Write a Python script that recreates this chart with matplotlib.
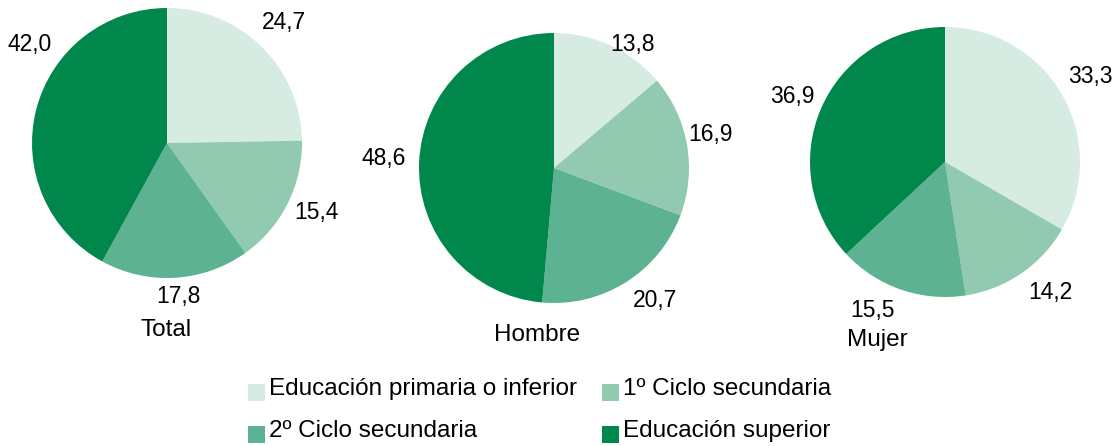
import matplotlib.pyplot as plt
from matplotlib.patches import Rectangle

plt.rcParams['font.family'] = ['Liberation Sans', 'DejaVu Sans']

# data
categories = ["Educación primaria o inferior", "1º Ciclo secundaria",
              "2º Ciclo secundaria", "Educación superior"]
groups = ["Total", "Hombre", "Mujer"]
total = [24.7, 15.4, 17.8, 42.0]
hombre = [13.8, 16.9, 20.7, 48.6]
mujer = [33.3, 14.2, 15.5, 36.9]

colors = ["#d6ece2", "#91cab0", "#5cb291", "#00884c"]

W, H = 1117, 446
fig = plt.figure(figsize=(W / 100, H / 100), dpi=100)
ax = fig.add_axes([0, 0, 1, 1])

# layout (pixel coords, y from top)
centers = [(167, 143), (554, 168), (945, 162)]
radius = 135
label_pos = [
    [(284, 22), (316, 212), (178, 297), (30, 44)],
    [(632, 44), (710, 134), (655, 301), (384, 159)],
    [(1090, 77), (1050, 292), (873, 311), (792, 97)],
]
title_pos = [(166, 330), (537, 335), (877, 340)]

fs_num = 16.5
fs_txt = 17.5
for vals, name, c, lp, tp in zip([total, hombre, mujer], groups, centers, label_pos, title_pos):
    ax.pie(vals, colors=colors, startangle=90, counterclock=False,
           center=(c[0], H - c[1]), radius=radius, frame=True,
           wedgeprops=dict(linewidth=0))
    for v, (x, y) in zip(vals, lp):
        ax.text(x, H - y, f"{v:.1f}".replace(".", ","), ha='center', va='center', fontsize=fs_num)
    ax.text(tp[0], H - tp[1], name, ha='center', va='center', fontsize=fs_txt)

ax.set_xlim(0, W)
ax.set_ylim(0, H)
ax.set_aspect('equal')
ax.axis('off')

# legend
leg_pos = [(248, 392), (602, 392), (248, 434), (602, 434)]
sq = 17
for cat, col, (x, y) in zip(categories, colors, leg_pos):
    ax.add_patch(Rectangle((x, H - y - sq / 2), sq, sq, facecolor=col, edgecolor='none'))
    ax.text(x + sq + 4, H - y + 3, cat, ha='left', va='center', fontsize=fs_txt)

fig.savefig("out.png", dpi=100)
